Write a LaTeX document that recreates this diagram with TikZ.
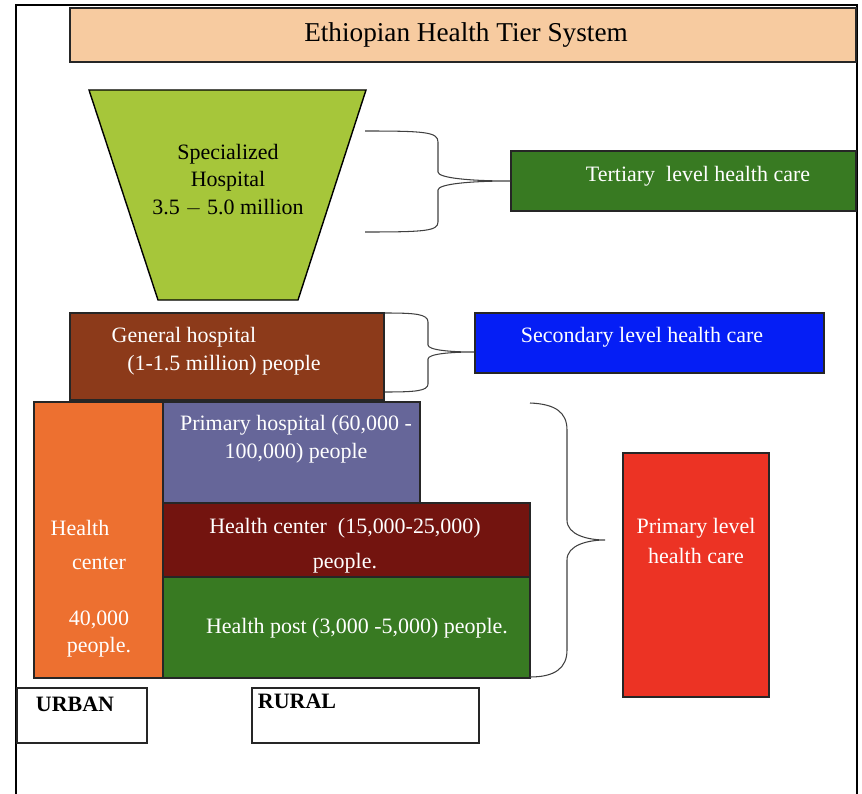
\documentclass[tikz,border=0pt]{standalone}
\usepackage{fontspec}
\setmainfont{Liberation Serif}
\usetikzlibrary{shapes}

\definecolor{peach}{RGB}{247,203,160}
\definecolor{lime}{RGB}{166,198,58}
\definecolor{leaf}{RGB}{56,122,34}
\definecolor{royal}{RGB}{5,30,245}
\definecolor{rust}{RGB}{140,58,26}
\definecolor{carrot}{RGB}{237,112,48}
\definecolor{slate}{RGB}{102,102,153}
\definecolor{maroon}{RGB}{115,20,15}
\definecolor{signal}{RGB}{236,51,36}

\begin{document}
\begin{tikzpicture}[x=0.02cm,y=-0.02cm]
\tikzstyle{tier}=[rectangle,draw=black!85,line width=0.8pt,inner sep=0pt]
\tikzstyle{txt}=[inner sep=0pt,align=center,text=white,font=\fontsize{12.5}{15.9}\selectfont]
\tikzstyle{brace}=[draw=black!75,line width=0.6pt]
\useasboundingbox (0,0) rectangle (862,794);
\draw[line width=1.3pt] (16,794) -- (16,5) -- (857,5) -- (857,794);

\node[tier,fill=peach,minimum width=15.72cm,minimum height=1.08cm](title) at (463,35) {};
\node[txt,text=black,font=\fontsize{15.5}{18}\selectfont](titletxt) at (466,35) {Ethiopian Health Tier System};

% top tier
\filldraw[fill=lime,draw=black,line width=0.8pt] (89,90) -- (366,90) -- (298,300) -- (158,300) -- cycle;
\node[txt,text=black,font=\fontsize{12.5}{15.6}\selectfont](spec) at (228,180) {Specialized\\Hospital\\3.5 $-$ 5.0 million};
\node[tier,fill=leaf,minimum width=6.9cm,minimum height=1.2cm](tert) at (683.5,181) {};
\node[txt](terttxt) at (698,176) {Tertiary\ \ level health care};

% middle tier
\node[tier,fill=rust,minimum width=6.28cm,minimum height=1.74cm](gen) at (227,356.5) {};
\node[txt](gentxt) at (184,337) {General hospital};
\node[txt](genpop) at (224,365) {(1-1.5 million) people};
\node[tier,fill=royal,minimum width=6.98cm,minimum height=1.2cm](sec) at (649.5,343) {};
\node[txt](sectxt) at (642,337) {Secondary level health care};

% bottom tier
\node[tier,fill=carrot,minimum width=2.58cm,minimum height=5.52cm](hc) at (98.5,540) {};
\node[txt](hctxt) at (80,528) {Health};
\node[txt](hctxt2) at (99,563) {center};
\node[txt](hcpop) at (99,634) {40,000\\people.};
\node[tier,fill=slate,minimum width=5.14cm,minimum height=2.02cm](ph) at (291.5,452.5) {};
\node[txt](phtxt) at (296,439) {Primary hospital (60,000 -\\100,000) people};
\node[tier,fill=maroon,minimum width=7.34cm,minimum height=1.48cm](hcr) at (346.5,540) {};
\node[txt,font=\fontsize{12.5}{19.8}\selectfont](hcrtxt) at (345,545.5) {Health center\ \ (15,000-25,000)\\people.};
\node[tier,fill=leaf,minimum width=7.34cm,minimum height=2.02cm](hp) at (346.5,627.5) {};
\node[txt](hptxt) at (357,628) {Health post (3,000 -5,000) people.};
\node[tier,fill=signal,minimum width=2.92cm,minimum height=4.88cm](prim) at (696,575) {};
\node[txt,font=\fontsize{12.5}{17}\selectfont](primtxt) at (696,541) {Primary level\\health care};

% settings
\node[tier,minimum width=2.6cm,minimum height=1.1cm](urban) at (82,715.5) {};
\node[txt,text=black,font=\fontsize{12.5}{15}\selectfont\bfseries](urbantxt) at (75,704) {URBAN};
\node[tier,minimum width=4.54cm,minimum height=1.1cm](rural) at (365.5,715.5) {};
\node[txt,text=black,font=\fontsize{12.5}{15}\selectfont\bfseries](ruraltxt) at (297,701) {RURAL};

\coordinate (b1top) at (365,131);
\coordinate (b1bot) at (365,232);
\coordinate (b2top) at (385,313);
\coordinate (b2bot) at (385,392);
\coordinate (b2tip) at (474,352);
\coordinate (b3top) at (530,403);
\coordinate (b3bot) at (530,677);
\coordinate (b3tip) at (605,540);

\draw[brace] (b1top) .. controls (425,131) and (438,132) .. (438,142) -- (438,172) .. controls (438,178) and (470,181) .. (tert.west)
  .. controls (470,181) and (438,184) .. (438,190) -- (438,222) .. controls (438,231) and (425,232) .. (b1bot);
\draw[brace] (b2top) .. controls (415,313) and (428,314) .. (428,322) -- (428,345) .. controls (428,350) and (450,352) .. (b2tip)
  .. controls (450,352) and (428,354) .. (428,359) -- (428,384) .. controls (428,391) and (415,392) .. (b2bot);
\draw[brace] (b3top) .. controls (555,404) and (567,412) .. (567,430) -- (567,520) .. controls (567,535) and (588,540) .. (b3tip)
  .. controls (588,540) and (567,545) .. (567,560) -- (567,650) .. controls (567,668) and (555,677) .. (b3bot);
\end{tikzpicture}
\end{document}
